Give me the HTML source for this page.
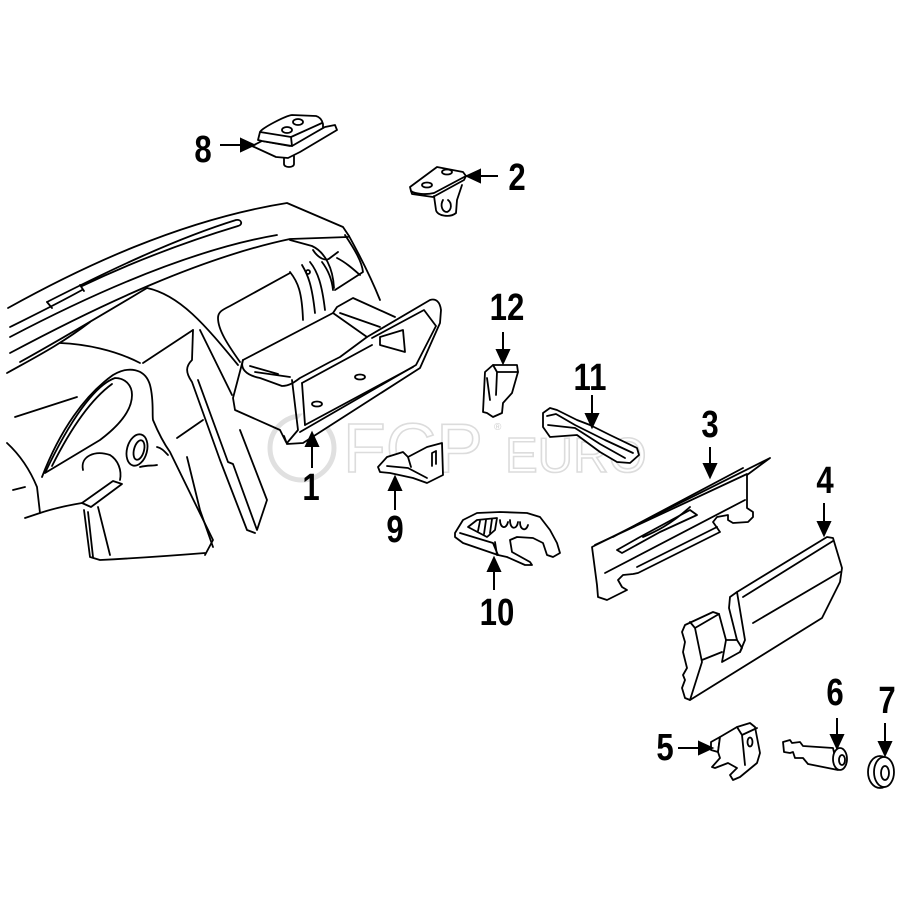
<!DOCTYPE html>
<html><head><meta charset="utf-8"><style>
html,body{margin:0;padding:0;background:#fff;}
svg{display:block;}
.lb{font-family:"Liberation Sans",sans-serif;font-weight:bold;font-size:38px;fill:#000;}
.wm{font-family:"Liberation Sans",sans-serif;fill:#fff;stroke:#dcdcdc;stroke-width:1.6;}
</style></head><body>
<svg width="900" height="900" viewBox="0 0 900 900" xmlns="http://www.w3.org/2000/svg">
<rect width="900" height="900" fill="#fff"/>

<!-- watermark -->
<g>
<circle cx="302" cy="448" r="32" fill="none" stroke="#e0e0e0" stroke-width="5"/>
<text class="wm" x="343" y="472" font-size="70">FCP</text>
<text class="wm" x="505" y="472" font-size="49">EURO</text>
<text x="494" y="430" font-family="Liberation Sans, sans-serif" font-size="10" fill="#d0d0d0">®</text>
</g>

<g fill="none" stroke="#000" stroke-width="1.8" stroke-linecap="round" stroke-linejoin="round">
<!-- DASHBOARD -->
<path d="M8,308 C80,268 180,220 287,203 L343,227 L349,236"/>
<path d="M47,302 C110,270 175,239 236,220 C242,219 243,225 238,226 C175,245 120,268 82,286"/>
<path d="M10,327 C30,317 55,305 82,290"/>
<path d="M47,302 L52,308 M80,285 L84,291"/>
<path d="M10,337 C90,295 190,250 277,235"/>
<path d="M10,353 C100,305 200,258 290,239 L348,237"/>
<path d="M20,362 C60,340 110,310 147,288"/>
<path d="M7,373 C30,360 60,345 90,322"/>
<path d="M147,288 C180,295 205,325 238,365"/>
<path d="M345,235 C355,250 362,262 363,272 L335,290"/>
<path d="M349,236 C360,256 372,280 380,300"/>
<path d="M290,240 L312,246 C325,252 333,268 334,288"/>
<path d="M313,250 C318,258 326,262 330,258 L338,252 M322,262 C328,270 332,280 333,290"/>
<path d="M337,258 C345,262 352,268 360,275"/>
<!-- passenger panel behind glovebox -->
<path d="M240,362 C228,345 218,330 218,318 C218,312 222,310 230,306 L290,273"/>
<path d="M290,272 C298,282 302,292 303,320"/>
<path d="M302,265 C308,275 312,285 315,313"/>
<path d="M310,262 C318,272 322,285 325,310"/>
<circle cx="308" cy="272" r="2"/>
<!-- lower dash / cluster -->
<path d="M60,343 C85,344 115,350 140,363"/>
<path d="M143,363 L193,330"/>
<path d="M193,330 L192,360 C186,366 185,372 192,382 L220,460 L247,530 L255,533"/>
<path d="M200,330 C210,350 222,375 232,395"/>
<path d="M198,380 L228,462 L233,464 L257,530 L267,500 L240,430"/>
<path d="M42,477 C60,430 85,395 113,375 C128,366 145,368 150,385 C154,400 152,415 153,420 C158,432 165,445 170,452 L213,540 L205,555"/>
<path d="M45,473 L100,440 C120,425 132,410 132,395 C132,385 125,378 115,378 C95,385 70,420 45,473"/>
<path d="M52,466 C70,430 90,400 112,384"/>
<ellipse cx="137" cy="450" rx="10" ry="16" transform="rotate(15 137 450)"/>
<ellipse cx="139" cy="450" rx="5" ry="10" transform="rotate(15 139 450)"/>
<path d="M140,467 C148,465 152,466 157,465 M157,447 C162,448 165,452 168,455"/>
<path d="M177,438 L203,420"/>
<path d="M187,457 L200,510 L213,547"/>
<path d="M15,417 L77,397"/>
<path d="M7,443 C20,455 30,470 37,487 L40,513 L25,518"/>
<path d="M13,490 L25,487 M40,513 C55,508 70,505 82,503"/>
<path d="M83,470 C80,456 95,450 110,455 C118,460 122,470 120,480"/>
<path d="M82,503 L113,481 L122,484 L91,507 Z"/>
<path d="M84,510 L90,557 L100,560 C140,558 180,555 205,553"/>
<path d="M98,507 L110,555 M88,512 L93,557"/>
<!-- GLOVEBOX (1) -->
<path d="M243,360 L333,313 L337,307 L353,298 L395,317"/>
<path d="M333,313 L367,337 M340,313 L380,327"/>
<path d="M367,337 L430,300 C436,298 440,302 441,310 L440,323 L420,368 L303,443 L287,444 L284,436" fill="#fff"/>
<path d="M372,338 L424,310 L436,326 L416,365 L300,432"/>
<path d="M243,360 C240,368 245,375 260,378 L282,386 C290,386 296,381 300,378 L330,362 L340,357 L367,337"/>
<path d="M243,360 L233,398 L235,410 L280,430 L286,442"/>
<path d="M250,366 L278,374 M255,372 L290,377"/>
<path d="M292,380 L298,430 L287,443 M302,383 L305,425"/>
<path d="M302,383 L372,345 M305,425 L413,367"/>
<path d="M380,337 L403,330 L405,352 L380,345 Z"/>
<ellipse cx="360" cy="377" rx="5" ry="2.5"/>
<ellipse cx="317" cy="404" rx="5" ry="2.5"/>

<!-- PART 8 -->
<path d="M252,146 L262,141 L290,146 L325,127 L335,125 L337,130 L300,152 L288,158 L276,157 Z" fill="#fff"/>
<path d="M258,140 L260,132 C262,128 285,116 292,115 L316,116 C320,117 322,120 323,124 L323,128 L292,146 L262,141 Z" fill="#fff"/>
<path d="M260,132 L291,137 L322,123 M291,137 L292,146"/>
<ellipse cx="287" cy="130" rx="5" ry="3"/>
<ellipse cx="298" cy="122" rx="5" ry="3"/>
<path d="M284,158 L284,164 C284,168 294,168 294,164 L294,156"/>

<!-- PART 2 -->
<path d="M410,187 L437,167 L463,172 L466,176 L434,193 C426,195 415,194 411,191 Z" fill="#fff"/>
<path d="M411,191 L412,194 L433,197 L464,180 L466,176"/>
<ellipse cx="427" cy="185" rx="5" ry="2.5"/>
<ellipse cx="447" cy="172" rx="5" ry="2.5"/>
<path d="M434,196 L436,210 C437,216 450,218 456,213 L457,200 L462,185"/>
<path d="M443,200 C440,205 442,212 447,212 C452,210 452,203 448,200"/>

<!-- PART 12 -->
<path d="M485,372 L493,365 L517,365 L518,372 L512,393 L503,403 L502,413 L493,417 L487,413 L483,412 Z" fill="#fff"/>
<path d="M493,365 L497,372 L518,372 M497,372 L496,395 M487,378 L490,400"/>

<!-- PART 11 -->
<path d="M543,413 L550,408 L557,410 L577,420 L590,425 L610,435 L637,448 L639,455 L630,463 L617,462 L600,452 L577,435 L550,437 L543,427 Z" fill="#fff"/>
<path d="M547,416 L556,414 L575,425 L605,440 L633,453 M548,425 L575,428 L600,444 L625,458"/>

<!-- PART 9 -->
<path d="M378,467 L387,457 L403,452 L408,457 L427,447 L442,443 L443,475 L427,483 L413,478 L390,473 L380,472 Z" fill="#fff"/>
<path d="M387,466 L408,468 L427,478 M408,457 L411,467 M432,466 L432,453 L436,451 L436,464"/>

<!-- PART 10 -->
<path d="M455,533 L463,520 L477,513 L500,512 L527,513 L540,517 L550,530 L557,543 L560,553 L553,557 L547,555 L543,543 L533,538 L517,537 L510,540 L512,552 L530,562 L532,565 L525,565 L507,557 L498,555 L463,543 L455,537 Z" fill="#fff"/>
<path d="M468,527 L477,520 L497,518 L495,530 L487,537 Z"/>
<path d="M480,521 L478,531 M486,520 L484,534 M492,519 L490,533"/>
<path d="M460,533 L493,543 L498,555 M495,542 L497,555"/>
<path d="M500,520 C500,528 506,530 508,522 M510,520 C510,530 517,530 518,522 M520,522 C520,530 526,532 528,525"/>

<!-- PART 3 -->
<path d="M592,547 L770,458 L747,475 L747,508 L753,512 L753,517 L748,522 L733,523 L728,520 L728,515 L717,517 L713,522 L720,532 L718,533 L638,573 L633,574 L623,575 L618,580 L622,587 L627,590 L607,600 L598,597 L597,585 Z" fill="#fff"/>
<path d="M595,545 L747,474 M613,537 L743,468 M605,573 L745,500 M637,567 L717,527"/>
<path d="M617,550 L640,537 L690,510 L697,515 L660,532 L622,553 Z"/>
<path d="M643,537 C655,532 670,525 690,507"/>

<!-- PART 4 -->
<path d="M685,625 L713,612 L719,614 L726,640 L722,662 L740,652 L742,648 L737,640 L729,608 L730,597 L737,592 L827,537 L833,538 L842,568 L840,582 L822,618 L690,700 L685,698 L682,688 L685,680 L683,675 L687,668 L683,652 L685,642 L682,632 Z" fill="#fff"/>
<path d="M743,597 L833,541 M753,623 L840,572"/>
<path d="M690,622 L695,628 L719,614 M695,628 L702,662 L690,700 M702,660 L722,652"/>
<path d="M737,592 L745,640 L740,652 M726,640 L737,640"/>

<!-- PART 5 -->
<path d="M711,742 L720,737 L718,752 L711,750 Z" fill="#fff"/>
<path d="M720,737 L737,727 L750,723 L755,727 L760,753 L757,763 L740,777 L733,780 L730,775 L737,768 L728,763 L715,768 L712,767 L720,758 L718,752 Z" fill="#fff"/>
<path d="M737,727 L742,735 L757,728 M742,735 L745,765"/>
<ellipse cx="750" cy="742" rx="2.5" ry="4.5"/>

<!-- PART 6 -->
<path d="M783,742 L790,740 L792,743 L800,742 L803,746 L833,748 L838,770 L808,764 L803,758 L795,758 L793,752 L790,753 L784,752 Z" fill="#fff"/>
<ellipse cx="840" cy="759" rx="7" ry="11" fill="#fff"/>
<ellipse cx="842" cy="760" rx="3" ry="5"/>

<!-- PART 7 -->
<ellipse cx="880" cy="772" rx="12" ry="16" fill="#fff"/>
<ellipse cx="884" cy="772" rx="10" ry="15" fill="#fff"/>
<ellipse cx="885" cy="773" rx="4" ry="7"/>
</g>

<!-- ARROWS -->
<g stroke="#000" stroke-width="2" fill="#000">
<line x1="220" y1="145" x2="243" y2="145"/><polygon points="241,139 254,145 241,151"/>
<line x1="498" y1="176" x2="478" y2="176"/><polygon points="480,170 467,176 480,182"/>
<line x1="503" y1="332" x2="503" y2="352"/><polygon points="497,350 503,363 509,350"/>
<line x1="592" y1="395" x2="592" y2="416"/><polygon points="586,414 592,427 598,414"/>
<line x1="710" y1="447" x2="710" y2="466"/><polygon points="704,464 710,477 716,464"/>
<line x1="824" y1="503" x2="824" y2="524"/><polygon points="818,522 824,535 830,522"/>
<line x1="494" y1="590" x2="494" y2="569"/><polygon points="488,571 494,558 500,571"/>
<line x1="312" y1="468" x2="312" y2="444"/><polygon points="306,446 312,433 318,446"/>
<line x1="395" y1="510" x2="395" y2="488"/><polygon points="389,490 395,477 401,490"/>
<line x1="837" y1="718" x2="837" y2="737"/><polygon points="831,735 837,748 843,735"/>
<line x1="885" y1="723" x2="885" y2="744"/><polygon points="879,742 885,755 891,742"/>
<line x1="678" y1="748" x2="701" y2="748"/><polygon points="699,742 712,748 699,754"/>
</g>

<!-- LABELS -->
<g class="lb" text-anchor="middle">
<text transform="translate(203,162) scale(0.82,1)">8</text>
<text transform="translate(517,190) scale(0.82,1)">2</text>
<text transform="translate(507,320) scale(0.82,1)">12</text>
<text transform="translate(590,390) scale(0.82,1)">11</text>
<text transform="translate(710,437) scale(0.82,1)">3</text>
<text transform="translate(825,493) scale(0.82,1)">4</text>
<text transform="translate(311,500) scale(0.82,1)">1</text>
<text transform="translate(395,542) scale(0.82,1)">9</text>
<text transform="translate(497,625) scale(0.82,1)">10</text>
<text transform="translate(835,705) scale(0.82,1)">6</text>
<text transform="translate(887,713) scale(0.82,1)">7</text>
<text transform="translate(665,760) scale(0.82,1)">5</text>
</g>
</svg>
</body></html>
